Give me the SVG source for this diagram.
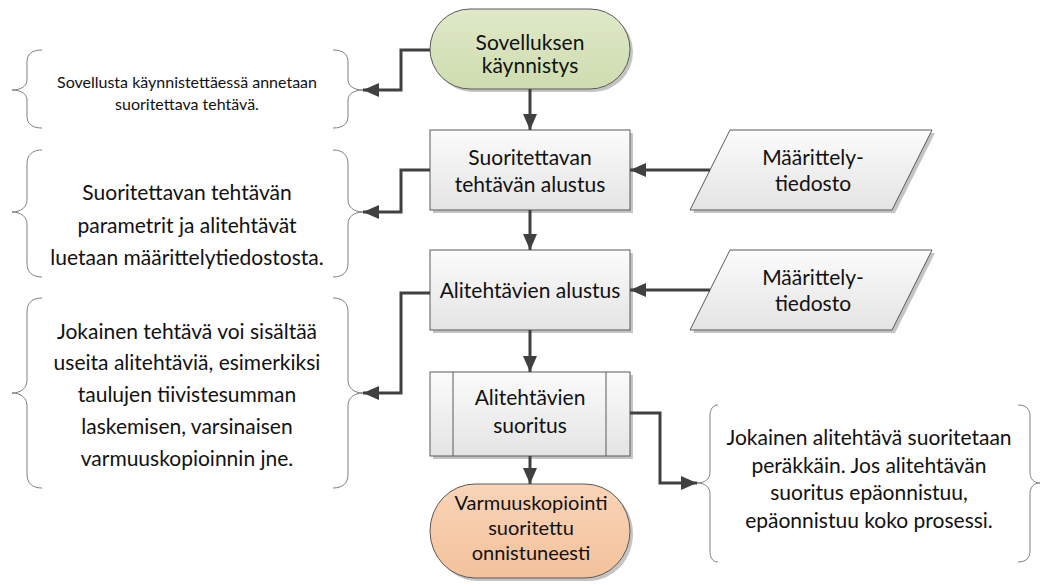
<svg xmlns="http://www.w3.org/2000/svg" width="1043" height="585" viewBox="0 0 1043 585">
<defs>
<linearGradient id="gBox" x1="0" y1="0" x2="0" y2="1"><stop offset="0" stop-color="#fbfbfb"/><stop offset="1" stop-color="#e4e4e4"/></linearGradient>
<linearGradient id="gGreen" x1="0" y1="0" x2="0" y2="1"><stop offset="0" stop-color="#dfe9c8"/><stop offset="1" stop-color="#cfdcaf"/></linearGradient>
<linearGradient id="gOrange" x1="0" y1="0" x2="0" y2="1"><stop offset="0" stop-color="#f9d4b6"/><stop offset="1" stop-color="#f3c29c"/></linearGradient>
<marker id="arr" markerUnits="userSpaceOnUse" markerWidth="16" markerHeight="14" refX="16" refY="7" orient="auto"><path d="M0,0 L16,7 L0,14 z" fill="#404040"/></marker>
<style>
.shape{stroke:#5a5a5a;stroke-width:1}
.shadow{fill:#c4c4c4}
.box{fill:url(#gBox)}
.brace{fill:none;stroke:#7f7f7f;stroke-width:1}
.conn{fill:none;stroke:#404040;stroke-width:3;marker-end:url(#arr)}
text{font-family:Lato,"Open Sans","Liberation Sans",sans-serif;fill:#111;text-anchor:middle}
.t{font-size:21px}
.ts{font-size:16px}
.tl{font-size:20px}
.tp{font-size:21px}
</style>
</defs>

<g id="start">
<rect class="shadow" x="433" y="12" width="200" height="80" rx="40" ry="40"/>
<rect class="shape" x="430" y="9" width="200" height="80" rx="40" ry="40" fill="url(#gGreen)"/>
<text class="t" x="530" y="50">Sovelluksen</text>
<text class="t" x="530" y="73">käynnistys</text>
</g>

<g id="init_task">
<rect class="shadow" x="433" y="133" width="200" height="80"/>
<rect class="shape box" x="430" y="130" width="200" height="80"/>
<text class="t" x="530" y="165">Suoritettavan</text>
<text class="t" x="530" y="192">tehtävän alustus</text>
</g>

<g id="init_subtasks">
<rect class="shadow" x="433" y="253" width="200" height="80"/>
<rect class="shape box" x="430" y="250" width="200" height="80"/>
<text class="t" x="530" y="298">Alitehtävien alustus</text>
</g>

<g id="run_subtasks">
<rect class="shadow" x="433" y="375" width="200" height="84"/>
<rect class="shape box" x="430" y="372" width="200" height="84"/>
<line class="shape" x1="453" y1="372" x2="453" y2="456"/>
<line class="shape" x1="606" y1="372" x2="606" y2="456"/>
<text class="t" x="530" y="405">Alitehtävien</text>
<text class="t" x="530" y="433">suoritus</text>
</g>

<g id="end">
<rect class="shadow" x="433" y="487" width="200" height="94" rx="45" ry="47"/>
<rect class="shape" x="430" y="484" width="200" height="94" rx="45" ry="47" fill="url(#gOrange)"/>
<text class="tl" x="531" y="510">Varmuuskopiointi</text>
<text class="tl" x="531" y="535">suoritettu</text>
<text class="tl" x="531" y="560">onnistuneesti</text>
</g>

<g id="file1">
<polygon class="shadow" points="733,133 935,133 895,213 693,213"/>
<polygon class="shape box" points="730,130 932,130 892,210 690,210"/>
<text class="tp" x="813" y="165">Määrittely-</text>
<text class="tp" x="813" y="191">tiedosto</text>
</g>

<g id="file2">
<polygon class="shadow" points="733,253 935,253 895,333 693,333"/>
<polygon class="shape box" points="730,250 932,250 892,330 690,330"/>
<text class="tp" x="813" y="285">Määrittely-</text>
<text class="tp" x="813" y="311">tiedosto</text>
</g>

<g id="note1">
<path class="brace" d="M42,50 C32,50 27,54 27,62 L27,80 C27,86 21,90 12,90 C21,90 27,94 27,100 L27,116 C27,124 32,128 42,128"/>
<path class="brace" d="M333,50 C343,50 348,54 348,62 L348,80 C348,86 354,90 363,90 C354,90 348,94 348,100 L348,116 C348,124 343,128 333,128"/>
<text class="ts" x="187" y="88">Sovellusta käynnistettäessä annetaan</text>
<text class="ts" x="187" y="110">suoritettava tehtävä.</text>
</g>

<g id="note2">
<path class="brace" d="M42,150 C32,150 27,155 27,164 L27,200 C27,207 21,212 12,212 C21,212 27,217 27,224 L27,263 C27,272 32,277 42,277"/>
<path class="brace" d="M333,150 C343,150 348,155 348,164 L348,200 C348,207 354,212 363,212 C354,212 348,217 348,224 L348,263 C348,272 343,277 333,277"/>
<text class="t" x="187" y="200">Suoritettavan tehtävän</text>
<text class="t" x="187" y="233">parametrit ja alitehtävät</text>
<text class="t" x="187" y="265">luetaan määrittelytiedostosta.</text>
</g>

<g id="note3">
<path class="brace" d="M42,298 C32,298 27,303 27,312 L27,380 C27,388 21,393 12,393 C21,393 27,398 27,406 L27,474 C27,483 32,488 42,488"/>
<path class="brace" d="M333,298 C343,298 348,303 348,312 L348,380 C348,388 354,393 363,393 C354,393 348,398 348,406 L348,474 C348,483 343,488 333,488"/>
<text class="t" x="187" y="339">Jokainen tehtävä voi sisältää</text>
<text class="t" x="187" y="370">useita alitehtäviä, esimerkiksi</text>
<text class="t" x="187" y="402">taulujen tiivistesumman</text>
<text class="t" x="187" y="434">laskemisen, varsinaisen</text>
<text class="t" x="187" y="466">varmuuskopioinnin jne.</text>
</g>

<g id="note4">
<path class="brace" d="M718,405 C713,405 710,409 710,416 L710,472 C710,479 705,483 697,483 C705,483 710,487 710,494 L710,551 C710,558 713,562 718,562"/>
<path class="brace" d="M1018,405 C1026,405 1030,409 1030,416 L1030,472 C1030,479 1034,483 1040,483 C1034,483 1030,487 1030,494 L1030,551 C1030,558 1026,562 1018,562"/>
<text class="t" x="869" y="445">Jokainen alitehtävä suoritetaan</text>
<text class="t" x="869" y="473">peräkkäin. Jos alitehtävän</text>
<text class="t" x="869" y="500">suoritus epäonnistuu,</text>
<text class="t" x="869" y="528">epäonnistuu koko prosessi.</text>
</g>

<g id="connectors">
<path class="conn" d="M530,89 L530,130"/>
<path class="conn" d="M530,210 L530,250"/>
<path class="conn" d="M530,330 L530,372"/>
<path class="conn" d="M530,456 L530,484"/>
<path class="conn" d="M430,50 L401,50 L401,90 L363,90"/>
<path class="conn" d="M430,170 L401,170 L401,212 L363,212"/>
<path class="conn" d="M430,293 L401,293 L401,393 L363,393"/>
<path class="conn" d="M630,413 L660,413 L660,483 L697,483"/>
<path class="conn" d="M710,170 L630,170"/>
<path class="conn" d="M710,290 L630,290"/>
</g>
</svg>
